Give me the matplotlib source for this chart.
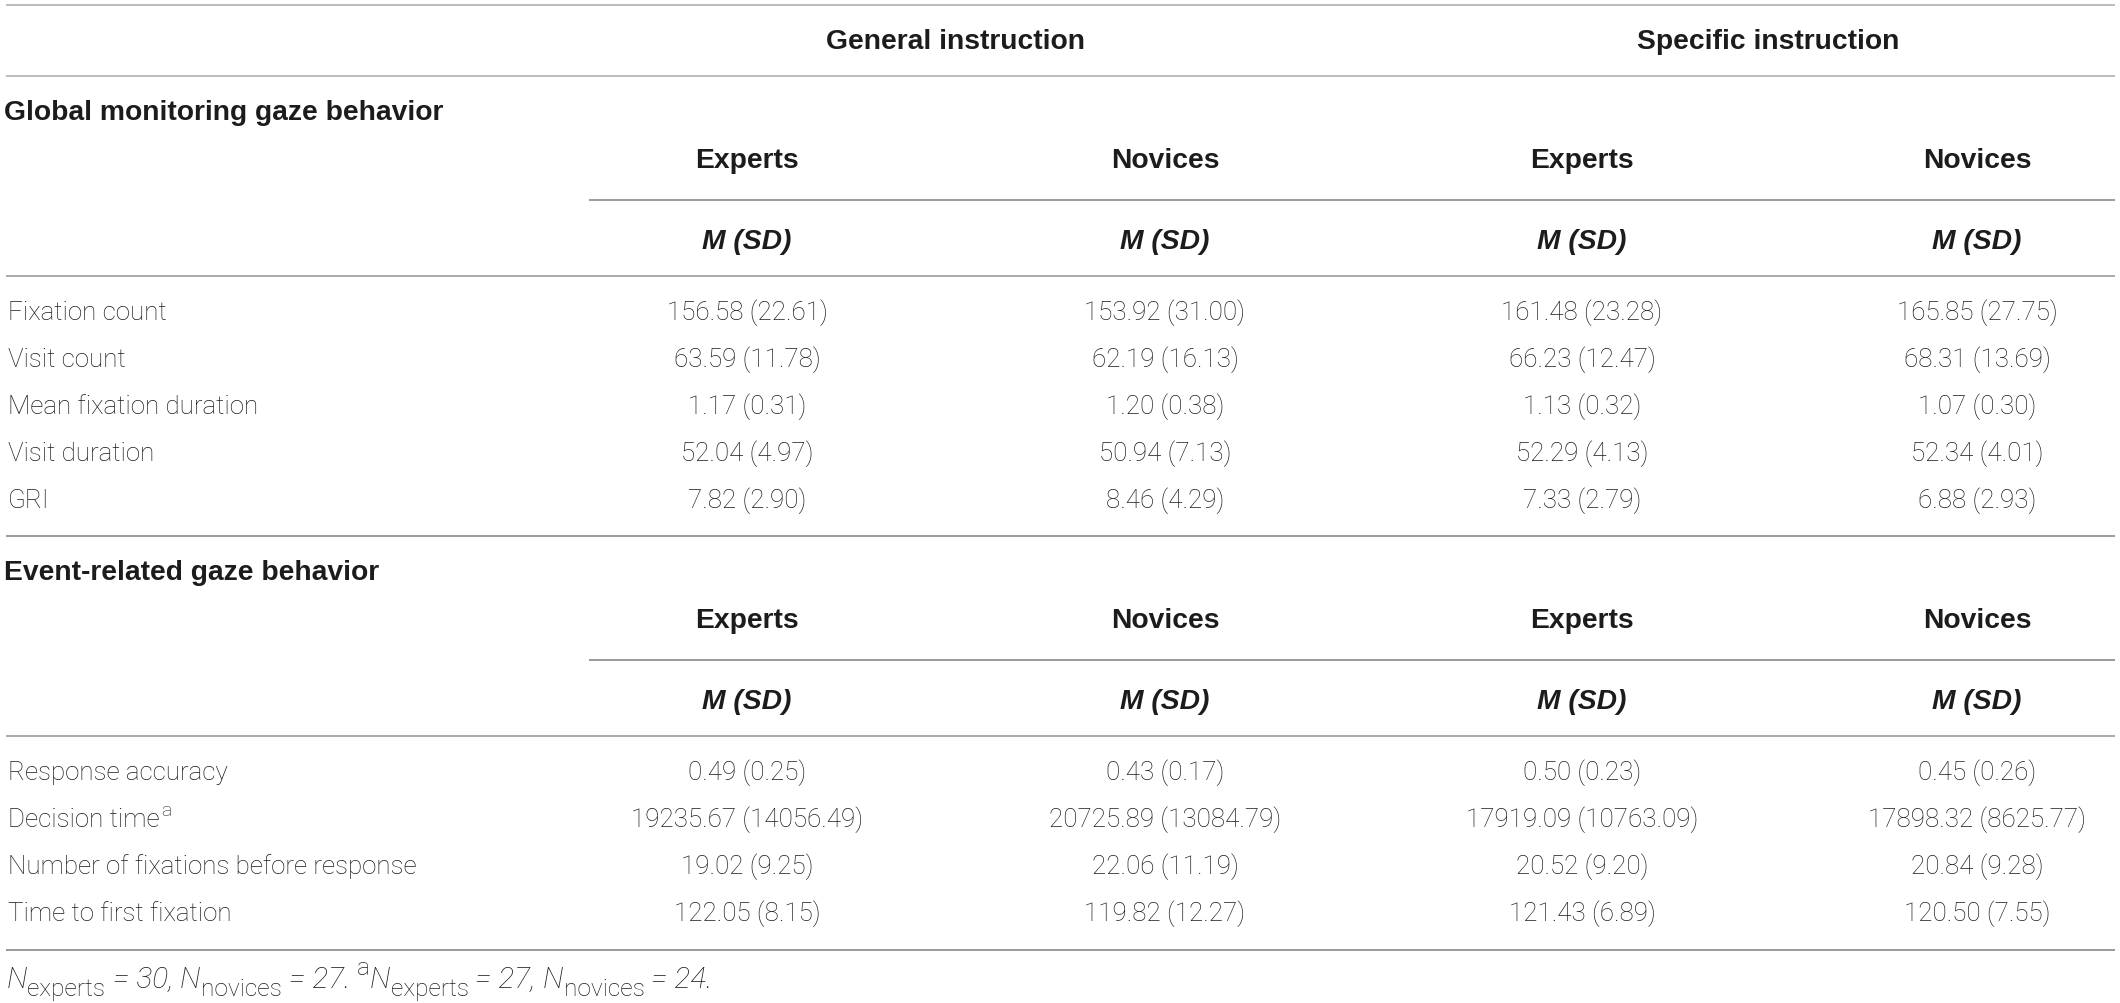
import matplotlib
matplotlib.use("Agg")
import matplotlib.pyplot as plt

# ── Contenuto della tabella ───────────────────────────────────────────────────
conditions = ["General instruction", "Specific instruction"]
groups = ["Experts", "Novices", "Experts", "Novices"]
stat_label = "M (SD)"

global_title = "Global monitoring gaze behavior"
global_rows = ["Fixation count", "Visit count", "Mean fixation duration",
               "Visit duration", "GRI"]
global_vals = [
    ["156.58 (22.61)", "153.92 (31.00)", "161.48 (23.28)", "165.85 (27.75)"],
    ["63.59 (11.78)", "62.19 (16.13)", "66.23 (12.47)", "68.31 (13.69)"],
    ["1.17 (0.31)", "1.20 (0.38)", "1.13 (0.32)", "1.07 (0.30)"],
    ["52.04 (4.97)", "50.94 (7.13)", "52.29 (4.13)", "52.34 (4.01)"],
    ["7.82 (2.90)", "8.46 (4.29)", "7.33 (2.79)", "6.88 (2.93)"],
]

event_title = "Event-related gaze behavior"
event_rows = ["Response accuracy", "Decision time",
              "Number of fixations before response", "Time to first fixation"]
event_marks = ["", "a", "", ""]      # apice sulle etichette
event_vals = [
    ["0.49 (0.25)", "0.43 (0.17)", "0.50 (0.23)", "0.45 (0.26)"],
    ["19235.67 (14056.49)", "20725.89 (13084.79)", "17919.09 (10763.09)", "17898.32 (8625.77)"],
    ["19.02 (9.25)", "22.06 (11.19)", "20.52 (9.20)", "20.84 (9.28)"],
    ["122.05 (8.15)", "119.82 (12.27)", "121.43 (6.89)", "120.50 (7.55)"],
]

# nota: (testo, ruolo)  ruolo: it = corsivo, sub = pedice, sup = apice
footnote = [("N", "it"), ("experts", "sub"), (" = 30, ", "it"),
            ("N", "it"), ("novices", "sub"), (" = 27. ", "it"),
            ("a", "sup"), ("N", "it"), ("experts", "sub"), (" = 27, ", "it"),
            ("N", "it"), ("novices", "sub"), (" = 24.", "it")]

# ── Layout (coordinate in pixel) ──────────────────────────────────────────────
W, H = 2120, 1004
COL_X = [747, 1165, 1582, 1977]
COND_X = [955, 1768]
X0, X1 = 6, 2115
XSHORT = 589
ROW_STEP = 47

TXT = "#1c1c1c"
LINE = "#9a9a9a"
BODY = dict(family="Roboto", fontweight="light", fontsize=18.7, color=TXT)
BOLD = dict(family="Liberation Sans", fontweight="bold", fontsize=20.3, color=TXT)

fig = plt.figure(figsize=(W / 100, H / 100), dpi=100)
ax = fig.add_axes([0, 0, 1, 1])
ax.set_xlim(0, W)
ax.set_ylim(H, 0)
ax.axis("off")
renderer = fig.canvas.get_renderer()


def hline(y, x0=X0, color=LINE, lw=1.4):
    ax.plot([x0, X1], [y, y], color=color, lw=lw, solid_capstyle="butt")


def run(x, y, pieces, size):
    """Scrive una riga composta da pezzi (corsivo / pedice / apice)."""
    for txt, role in pieces:
        if role == "it":
            t = ax.text(x, y, txt, ha="left", va="baseline", family="Roboto",
                        fontweight="light", fontstyle="italic", fontsize=size, color=TXT)
        else:
            dy = 7 if role == "sub" else -12
            t = ax.text(x, y + dy * size / 20, txt, ha="left", va="baseline",
                        family="Roboto", fontweight="light",
                        fontsize=size * 0.82, color=TXT)
        bb = t.get_window_extent(renderer)
        x += bb.width
    return x


hline(6, color="#b0b0b0", lw=1.2)
for cx, cond in zip(COND_X, conditions):
    ax.text(cx, 42, cond, ha="center", va="center", **BOLD)
hline(77, color="#b0b0b0", lw=1.2)


def block(top, title, rows, vals, marks=None):
    ax.text(4, top + 36, title, ha="left", va="center", **BOLD)
    for cx, g in zip(COL_X, groups):
        ax.text(cx, top + 84, g, ha="center", va="center", **BOLD)
    hline(top + 124, x0=XSHORT)
    for cx in COL_X:
        ax.text(cx, top + 165, stat_label, ha="center", va="center",
                family="Liberation Sans", fontweight="bold", fontstyle="italic",
                fontsize=20.3, color=TXT)
    hline(top + 200, color="#aaaaaa")
    y = top + 236
    marks = marks or [""] * len(rows)
    for lab, mk, row in zip(rows, marks, vals):
        t = ax.text(8, y, lab, ha="left", va="center", **BODY)
        if mk:
            bb = t.get_window_extent(renderer)
            ax.text(8 + bb.width + 1, y - 9, mk, ha="left", va="center",
                    family="Roboto", fontweight="light", fontsize=14, color=TXT)
        for cx, v in zip(COL_X, row):
            ax.text(cx, y, v, ha="center", va="center", **BODY)
        y += ROW_STEP
    return y


block(77, global_title, global_rows, global_vals)
hline(537)
block(537, event_title, event_rows, event_vals, event_marks)
hline(951)

run(7, 988, footnote, 21.5)

fig.savefig("out.png", dpi=100)
plt.close(fig)
